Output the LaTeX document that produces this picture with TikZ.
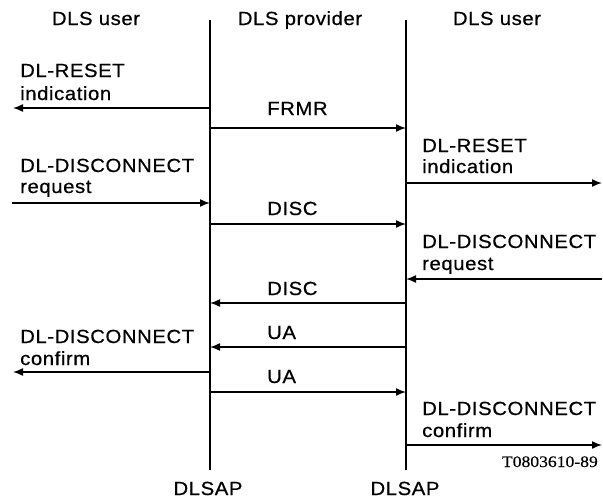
\documentclass[tikz,border=0pt]{standalone}
\usepackage{fontspec}
\setmainfont{Liberation Sans}[LetterSpace=3,FakeStretch=1.07,FakeBold=0.6]
\newfontfamily\refserif{Liberation Serif}[FakeStretch=1.1,FakeBold=0.4]
\usetikzlibrary{arrows.meta}
\begin{document}
\begin{tikzpicture}[x=1pt,y=-1pt,
  lab/.style={anchor=base west,inner sep=0pt,font=\fontsize{19}{22}\selectfont},
  hdr/.style={anchor=base,inner sep=0pt,font=\fontsize{19}{22}\selectfont},
  life/.style={line width=1.6pt},
  msg/.style={line width=1.5pt,-{Latex[length=10pt,width=8pt]}}]
\useasboundingbox (0,0) rectangle (603,501);
% headers
\node[hdr] (h1) at (96,25) {DLS user};
\node[hdr] (h2) at (300,25) {DLS provider};
\node[hdr] (h3) at (497,25) {DLS user};
% lifelines
\coordinate (Lt) at (210,20); \coordinate (Lb) at (210,470);
\coordinate (Rt) at (406,20); \coordinate (Rb) at (406,470);
\draw[life] (Lt) -- (Lb);
\draw[life] (Rt) -- (Rb);
\node[hdr] (sap1) at (208,495) {DLSAP};
\node[hdr] (sap2) at (405,495) {DLSAP};
% left user texts
\node[lab] (t1) at (20,77) {DL-RESET};
\node[lab] (t2) at (20,100) {indication};
\node[lab] (t3) at (20,172) {DL-DISCONNECT};
\node[lab] (t4) at (20,193) {request};
\node[lab] (t5) at (20,343) {DL-DISCONNECT};
\node[lab] (t6) at (20,365) {confirm};
% right user texts
\node[lab] (r1) at (422,152) {DL-RESET};
\node[lab] (r2) at (422,173) {indication};
\node[lab] (r3) at (422,248) {DL-DISCONNECT};
\node[lab] (r4) at (422,270) {request};
\node[lab] (r5) at (422,415) {DL-DISCONNECT};
\node[lab] (r6) at (422,437) {confirm};
% provider labels
\node[lab] (m1) at (267,115) {FRMR};
\node[lab] (m2) at (267,215) {DISC};
\node[lab] (m3) at (267,295) {DISC};
\node[lab] (m4) at (267,339) {UA};
\node[lab] (m5) at (267,383) {UA};
\node[anchor=base east,inner sep=0pt,font=\refserif\fontsize{16}{18}\selectfont] (ref) at (598,467) {T0803610-89};
% connector endpoints
\coordinate (a1) at (210,108); \coordinate (b1) at (13,108);
\coordinate (a2) at (210,128); \coordinate (b2) at (406,128);
\coordinate (a3) at (406,183); \coordinate (b3) at (602,183);
\coordinate (a4) at (12,203);  \coordinate (b4) at (210,203);
\coordinate (a5) at (210,224); \coordinate (b5) at (406,224);
\coordinate (a6) at (602,279); \coordinate (b6) at (406,279);
\coordinate (a7) at (406,303); \coordinate (b7) at (210,303);
\coordinate (a8) at (406,347); \coordinate (b8) at (210,347);
\coordinate (a9) at (210,372); \coordinate (b9) at (13,372);
\coordinate (a10) at (210,392); \coordinate (b10) at (406,392);
\coordinate (a11) at (406,445); \coordinate (b11) at (602,445);
\foreach \i in {1,...,11} {\draw[msg] (a\i) -- (b\i);}
\end{tikzpicture}
\end{document}
